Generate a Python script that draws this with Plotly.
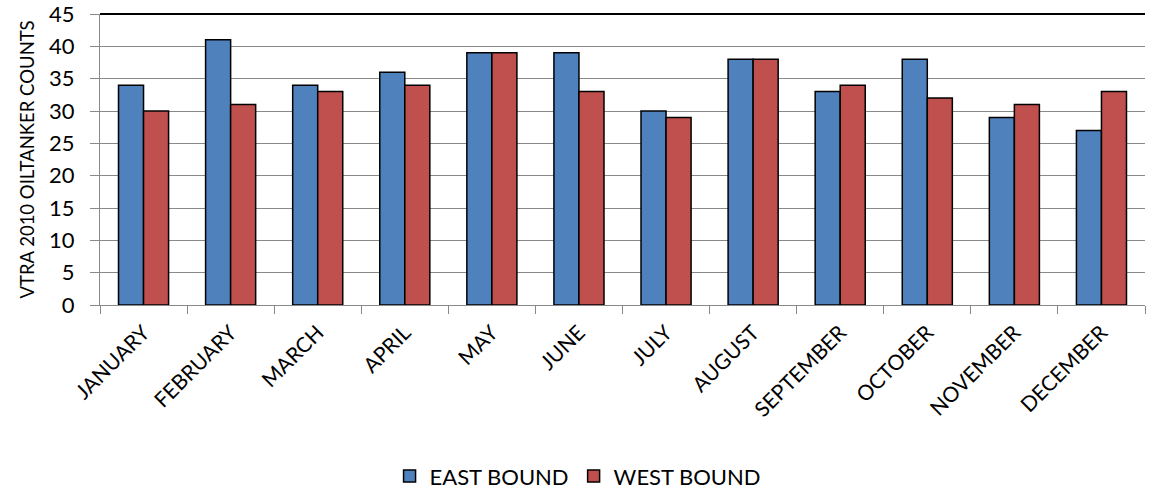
import plotly.graph_objects as go

months = ["JANUARY", "FEBRUARY", "MARCH", "APRIL", "MAY", "JUNE", "JULY",
          "AUGUST", "SEPTEMBER", "OCTOBER", "NOVEMBER", "DECEMBER"]
east_bound = [34, 41, 34, 36, 39, 39, 30, 38, 33, 38, 29, 27]
west_bound = [30, 31, 33, 34, 39, 33, 29, 38, 34, 32, 31, 33]
y_ticks = [0, 5, 10, 15, 20, 25, 30, 35, 40, 45]
y_title = "VTRA 2010 OILTANKER COUNTS"

FONT = "Lato, Open Sans, sans-serif"
GRID = "#898989"

fig = go.Figure()
fig.add_trace(go.Bar(x=months, y=east_bound, name="EAST BOUND",
                     marker=dict(color="#4F81BD", line=dict(color="black", width=1.5))))
fig.add_trace(go.Bar(x=months, y=west_bound, name="WEST BOUND",
                     marker=dict(color="#C0504D", line=dict(color="black", width=1.5))))

fig.update_layout(
    width=1154, height=492,
    margin=dict(l=100, r=9, t=14, b=187, autoexpand=False),
    paper_bgcolor="white", plot_bgcolor="white",
    barmode="group", bargap=0.425, bargroupgap=0,
    font=dict(family=FONT, size=21, color="black"),
    showlegend=True,
    legend=dict(orientation="h", x=0.457, xanchor="center", y=-0.588, yanchor="middle",
                font=dict(size=22), itemwidth=30, traceorder="normal"),
    xaxis=dict(showgrid=False, showline=True, linecolor=GRID, linewidth=1,
               ticks="outside", tickson="boundaries", ticklen=8, tickcolor=GRID,
               tickangle=-45, tickfont=dict(size=21), automargin=False,
               ticklabelstandoff=6),
    yaxis=dict(range=[0, 45], tickvals=y_ticks, showgrid=True, gridcolor=GRID,
               gridwidth=1, showline=True, linecolor=GRID, linewidth=1,
               ticks="outside", ticklen=9, tickcolor=GRID, zeroline=False,
               tickfont=dict(size=22), automargin=False, ticklabelstandoff=11,
               ticklabeloverflow="allow"),
)
fig.add_annotation(text=y_title, xref="paper", yref="paper", x=-0.0708, y=0.5,
                   xanchor="center", yanchor="middle", textangle=-90, showarrow=False,
                   font=dict(size=18.5, family=FONT, color="black"))
fig.add_shape(type="line", xref="paper", yref="paper", x0=0, x1=1, y0=1, y1=1,
              line=dict(color="black", width=2))

fig.write_html("out.html", config={"displayModeBar": False},
               post_script="document.body.style.margin='0';")
